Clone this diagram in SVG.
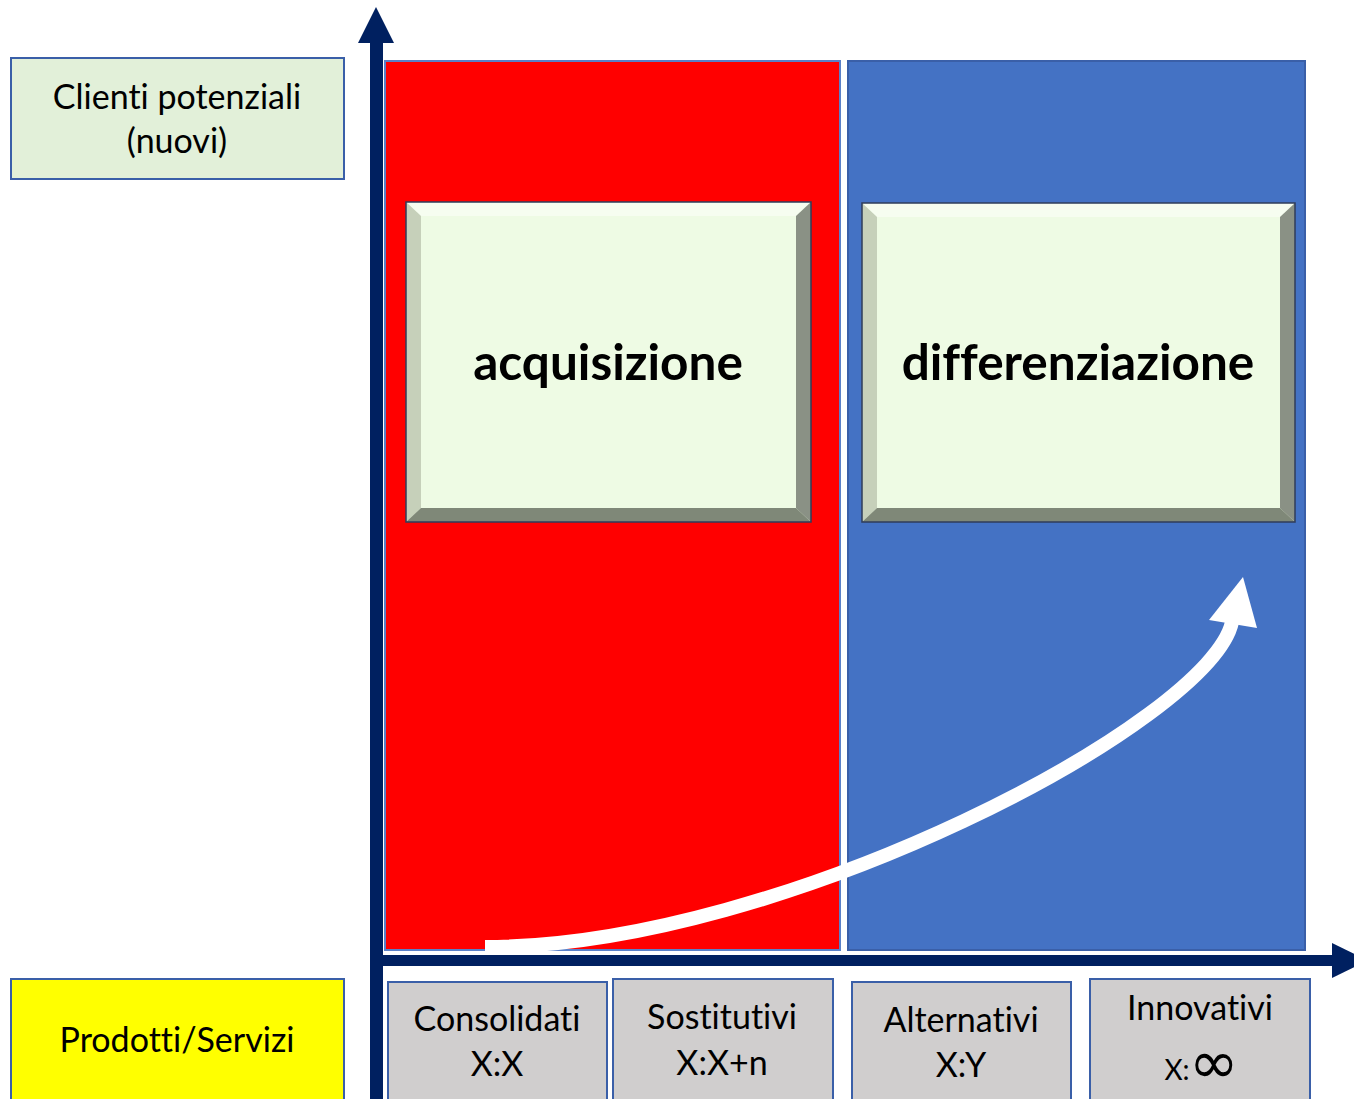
<svg xmlns="http://www.w3.org/2000/svg" width="1354" height="1099" viewBox="0 0 1354 1099">
<style>
text{font-variant-ligatures:none;font-feature-settings:"liga" 0,"clig" 0}
.lbl{font-family:Lato,"Open Sans","Liberation Sans",sans-serif;font-size:34px;fill:#000;text-anchor:middle}
.big{font-family:Lato,"Open Sans","Liberation Sans",sans-serif;font-size:49.5px;font-weight:bold;fill:#000;text-anchor:middle}
.gbox{fill:#D0CECE;stroke:#3A5FA8;stroke-width:2}
.axis{fill:#002060}
.face{fill:#EEFBE4}
.bt{fill:#F6FDF0}.bl{fill:#C6D0BA}.br{fill:#8A9185}.bb{fill:#7F8878}
.bout{fill:none;stroke:#2F3D5A;stroke-width:1.5}
</style>
<rect width="1354" height="1099" fill="#FFFFFF"/>
<g id="zone-red"><rect x="385" y="61" width="455" height="889" fill="#FF0000" stroke="#5A80C8" stroke-width="2"/></g>
<g id="zone-blue"><rect x="848" y="61" width="457" height="889" fill="#4472C4" stroke="#3A5FA8" stroke-width="2"/></g>
<g id="acquisizione">
<rect class="face" x="406" y="202" width="405" height="320"/>
<polygon class="bt" points="406,202 811,202 796,216 421,216"/>
<polygon class="bl" points="406,202 421,216 421,508 406,522"/>
<polygon class="br" points="811,202 811,522 796,508 796,216"/>
<polygon class="bb" points="406,522 421,508 796,508 811,522"/>
<rect class="bout" x="406" y="202" width="405" height="320"/>
<text class="big" x="608" y="380">acquisizione</text>
</g>
<g id="differenziazione">
<rect class="face" x="862" y="203" width="433" height="319"/>
<polygon class="bt" points="862,203 1295,203 1280,217 877,217"/>
<polygon class="bl" points="862,203 877,217 877,508 862,522"/>
<polygon class="br" points="1295,203 1295,522 1280,508 1280,217"/>
<polygon class="bb" points="862,522 877,508 1280,508 1295,522"/>
<rect class="bout" x="862" y="203" width="433" height="319"/>
<text class="big" x="1078" y="380">differenziazione</text>
</g>
<g id="connectors">
<path d="M485,947 C785,947 1211,720 1232,622" fill="none" stroke="#FFFFFF" stroke-width="14"/>
<polygon points="1243,577 1257,628 1209,620" fill="#FFFFFF"/>
<rect class="axis" x="370" y="42" width="13" height="1060"/>
<polygon class="axis" points="376,7 394,43 358,43"/>
<rect class="axis" x="370" y="955" width="964" height="11"/>
<polygon class="axis" points="1332,943 1368,960.5 1332,978"/>
</g>
<g id="clienti">
<rect x="11" y="58" width="333" height="121" fill="#E2F0D9" stroke="#3A5FA8" stroke-width="2"/>
<text class="lbl" x="177" y="109">Clienti potenziali</text>
<text class="lbl" x="177" y="153">(nuovi)</text>
</g>
<g id="prodotti">
<rect x="11" y="979" width="333" height="130" fill="#FFFF00" stroke="#3A5FA8" stroke-width="2"/>
<text class="lbl" x="177" y="1052">Prodotti/Servizi</text>
</g>
<g id="consolidati">
<rect class="gbox" x="388" y="982" width="219" height="130"/>
<text class="lbl" x="497" y="1031">Consolidati</text>
<text class="lbl" x="497" y="1076">X:X</text>
</g>
<g id="sostitutivi">
<rect class="gbox" x="613" y="979" width="220" height="130"/>
<text class="lbl" x="722" y="1029">Sostitutivi</text>
<text class="lbl" x="722" y="1075">X:X+n</text>
</g>
<g id="alternativi">
<rect class="gbox" x="852" y="982" width="219" height="130"/>
<text class="lbl" x="961" y="1032">Alternativi</text>
<text class="lbl" x="961" y="1077">X:Y</text>
</g>
<g id="innovativi">
<rect class="gbox" x="1090" y="979" width="220" height="130"/>
<text class="lbl" x="1177" y="1080" style="font-size:28px">X:</text>
<text class="lbl" x="1200" y="1020">Innovativi</text>
<text x="1214" y="1083" style="font-family:'DejaVu Sans',sans-serif;font-size:60px;fill:#000;text-anchor:middle">∞</text>
</g>
</svg>
